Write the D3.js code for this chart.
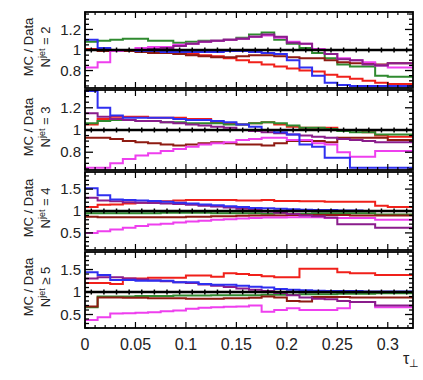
<!DOCTYPE html>
<html><head><meta charset="utf-8">
<script src="https://cdn.jsdelivr.net/npm/d3@7"></script>
<style>body{margin:0;background:#fff}text{font-family:"Liberation Sans",Arial,sans-serif;fill:#222}</style>
</head><body><svg id="c" width="423" height="380"></svg>
<script>
// ---- data ----
const binEdges = [0,0.0125,0.025,0.0375,0.05,0.0625,0.075,0.0875,0.1,0.1125,0.125,0.1375,0.15,0.1625,0.175,0.1875,0.2,0.2125,0.225,0.2375,0.25,0.2625,0.275,0.2875,0.3,0.3125,0.325];
const xTicks = [0,0.05,0.1,0.15,0.2,0.25,0.3];
const xTickLabels = ["0","0.05","0.1","0.15","0.2","0.25","0.3"];
const seriesNames = ["red","green","maroon","magenta","purple","blue"];
const seriesColors = {red:"#f0201a",green:"#2f8a2f",maroon:"#8e1b12",magenta:"#ee3fee",purple:"#8a1d8c",blue:"#2f2ff0"};
const panelLabels = ["N^jet = 2","N^jet = 3","N^jet = 4","N^jet \u2265 5"];
const yTicks = [[0.8,1,1.2],[0.8,1,1.2],[0.5,1,1.5],[0.5,1,1.5]];
const yTickLabels = [["0.8","1","1.2"],["0.8","1","1.2"],["0.5","1","1.5"],["0.5","1","1.5"]];
const yDomains = [[0.63,1.37],[0.64,1.36],[0.11,1.89],[0.2,1.89]];

// panel 1
const p1 = {
 green:  [1.08,1.09,1.10,1.11,1.11,1.09,1.09,1.07,1.08,1.09,1.09,1.10,1.12,1.15,1.17,1.10,1.06,1.02,0.97,0.92,0.86,0.84,0.84,0.75,0.74,0.74],
 magenta:[0.83,0.88,0.99,1.00,1.02,1.03,1.03,1.05,1.06,1.08,1.09,1.10,1.11,1.13,1.14,1.12,1.08,1.06,1.01,0.96,0.92,0.90,0.88,0.85,0.83,0.83],
 purple: [1.00,1.00,1.00,1.00,1.00,1.01,1.02,1.04,1.06,1.08,1.09,1.10,1.11,1.13,1.15,1.13,1.07,1.06,1.00,0.96,0.91,0.90,0.86,0.85,0.87,0.87],
 red:    [1.01,1.01,1.00,1.00,0.99,0.99,0.98,0.97,0.96,0.95,0.94,0.92,0.90,0.88,0.86,0.84,0.82,0.80,0.79,0.76,0.74,0.72,0.70,0.68,0.67,0.67],
 blue:   [1.10,1.02,1.00,1.00,0.99,0.99,0.98,0.98,0.98,0.98,0.98,0.99,0.99,0.98,0.97,0.96,0.90,0.83,0.75,0.68,0.66,0.65,0.65,0.65,0.65,0.65],
 maroon: [1.00,0.99,0.99,0.99,0.98,0.97,0.97,0.96,0.95,0.94,0.93,0.93,0.94,0.95,0.95,0.94,0.93,0.92,0.92,0.90,0.88,0.87,0.87,0.86,0.87,0.87]
};
// panel 2
const p2 = {
 blue:   [1.35,1.20,1.13,1.11,1.11,1.11,1.11,1.10,1.09,1.09,1.08,1.07,1.05,1.03,1.00,0.98,0.96,0.87,0.85,0.75,0.75,0.66,0.66,0.66,0.66,0.66],
 red:    [1.05,1.10,1.12,1.12,1.12,1.11,1.11,1.11,1.10,1.10,1.07,1.06,1.05,1.06,1.07,1.05,1.03,1.02,1.02,1.02,1.00,1.00,0.98,0.95,0.94,0.94],
 green:  [1.06,1.08,1.09,1.09,1.08,1.08,1.07,1.07,1.06,1.06,1.06,1.05,1.05,1.06,1.07,1.06,1.04,1.02,1.02,1.01,0.99,0.98,0.98,0.96,0.96,0.96],
 maroon: [0.93,0.93,0.92,0.90,0.89,0.88,0.87,0.86,0.87,0.88,0.89,0.88,0.87,0.87,0.86,0.88,0.90,0.90,0.90,0.89,0.93,0.93,0.93,0.93,0.91,0.91],
 magenta:[0.66,0.66,0.70,0.74,0.77,0.79,0.81,0.83,0.85,0.87,0.88,0.89,0.91,0.92,0.93,0.93,0.91,0.91,0.88,0.87,0.80,0.76,0.76,0.81,0.81,0.81],
 purple: [1.15,1.12,1.10,1.09,1.08,1.08,1.07,1.06,1.05,1.04,1.03,1.02,1.00,0.99,0.98,0.97,0.96,0.95,0.94,0.93,0.92,0.91,0.90,0.89,0.89,0.89]
};
// panel 3
const p3 = {
 blue:   [1.52,1.36,1.26,1.25,1.24,1.23,1.21,1.19,1.17,1.15,1.13,1.11,1.09,1.07,1.06,1.05,1.04,1.03,1.02,1.02,1.01,1.01,1.00,1.00,1.00,1.00],
 red:    [1.09,1.14,1.15,1.17,1.19,1.20,1.22,1.24,1.25,1.25,1.25,1.25,1.24,1.24,1.25,1.23,1.23,1.22,1.22,1.21,1.21,1.21,1.21,1.12,1.09,1.09],
 green:  [0.95,0.95,0.95,0.95,0.95,0.95,0.96,0.96,0.96,0.96,0.95,0.95,0.95,0.95,0.94,0.95,0.94,0.94,0.95,0.95,0.95,0.95,0.95,0.92,0.92,0.92],
 maroon: [0.87,0.86,0.86,0.86,0.86,0.86,0.86,0.86,0.87,0.87,0.88,0.88,0.89,0.90,0.90,0.90,0.91,0.91,0.91,0.91,0.91,0.90,0.90,0.90,0.90,0.90],
 magenta:[0.50,0.54,0.58,0.62,0.66,0.69,0.71,0.74,0.76,0.78,0.80,0.81,0.83,0.84,0.85,0.85,0.86,0.86,0.86,0.84,0.84,0.84,0.84,0.80,0.80,0.80],
 purple: [1.30,1.24,1.22,1.20,1.19,1.18,1.17,1.16,1.14,1.12,1.10,1.08,1.05,1.02,0.99,0.96,0.93,0.90,0.88,0.85,0.70,0.70,0.70,0.62,0.62,0.62]
};
// panel 4
const p4 = {
 blue:   [1.44,1.38,1.27,1.27,1.25,1.25,1.25,1.22,1.22,1.18,1.16,1.16,1.14,1.12,1.10,1.07,1.05,1.04,1.03,1.02,1.02,1.02,1.01,1.01,1.01,1.01],
 red:    [1.20,1.20,1.18,1.30,1.30,1.32,1.32,1.32,1.37,1.37,1.34,1.42,1.40,1.38,1.35,1.33,1.33,1.52,1.52,1.52,1.44,1.42,1.42,1.38,1.38,1.38],
 green:  [0.66,0.90,0.90,0.90,0.91,0.91,0.91,0.92,0.92,0.92,0.93,0.93,0.93,0.93,0.94,0.94,0.94,0.95,0.95,0.95,0.96,0.96,0.96,0.97,0.97,0.97],
 maroon: [0.68,0.88,0.88,0.87,0.87,0.86,0.86,0.86,0.85,0.85,0.85,0.86,0.86,0.87,0.90,0.88,0.80,0.79,0.89,0.89,0.89,0.88,0.88,0.88,0.88,0.88],
 magenta:[0.38,0.44,0.52,0.53,0.54,0.55,0.57,0.59,0.63,0.65,0.66,0.67,0.68,0.70,0.56,0.60,0.64,0.60,0.60,0.60,0.64,0.78,0.78,0.66,0.66,0.66],
 purple: [1.30,1.33,1.33,1.30,1.28,1.26,1.24,1.22,1.20,1.17,1.14,1.11,1.08,1.05,1.02,0.98,0.93,0.88,0.85,0.84,0.80,0.78,0.78,0.70,0.70,0.70]
};
const dataRatio = [1,1,1,1,1,1,1,1,1,1,1,1,1,1,1,1,1,1,1,1,1,1,1,1,1,1];
const panelsData = [p1,p2,p3,p4];

// ---- layout ----
const svg = d3.select("#c");
const x = d3.scaleLinear().domain([0,0.325]).range([85,413]);
const frames = [[12,88],[90,170],[172,250],[252,328]];
const minorStep = [0.05,0.05,0.1,0.1];

frames.forEach((fr,pi)=>{
  const y = d3.scaleLinear().domain(yDomains[pi]).range([fr[1],fr[0]]);
  const g = svg.append("g");
  const cid = "clip"+pi;
  svg.append("clipPath").attr("id",cid).append("rect")
     .attr("x",x.range()[0]).attr("y",fr[0]).attr("width",x.range()[1]-x.range()[0]).attr("height",fr[1]-fr[0]);
  const pd = panelsData[pi];
  const plot = g.append("g").attr("clip-path",`url(#${cid})`);
  const line = d3.line().x(d=>x(d[0])).y(d=>y(d[1])).curve(d3.curveStepAfter);
  seriesNames.forEach(s=>{
    const vals = pd[s];
    const pts = vals.map((v,i)=>[binEdges[i],v]);
    pts.push([binEdges[vals.length],vals[vals.length-1]]);
    plot.append("path").attr("d",line(pts)).attr("fill","none")
      .attr("stroke",seriesColors[s]).attr("stroke-width",2);
  });
  // data
  const dpts = dataRatio.map((v,i)=>[binEdges[i],v]);
  dpts.push([binEdges[dataRatio.length],dataRatio[dataRatio.length-1]]);
  plot.append("path").attr("d",line(dpts)).attr("fill","none").attr("stroke","#000").attr("stroke-width",2.4);
  plot.selectAll(".dm").data(dataRatio).enter().append("line")
    .attr("x1",(d,i)=>x((binEdges[i]+binEdges[i+1])/2)).attr("x2",(d,i)=>x((binEdges[i]+binEdges[i+1])/2))
    .attr("y1",d=>y(d)-2.5).attr("y2",d=>y(d)+2.5).attr("stroke","#000").attr("stroke-width",1.5);

  // y ticks (major + minor), left & right
  const [lo,hi]=yDomains[pi];
  const mstep=minorStep[pi];
  const minors=[]; for(let v=Math.ceil(lo/mstep)*mstep; v<=hi+1e-9; v+=mstep) minors.push(+v.toFixed(3));
  minors.forEach(v=>{
    const isMaj = yTicks[pi].some(t=>Math.abs(t-v)<1e-6);
    const L = isMaj?8:4;
    g.append("line").attr("x1",x.range()[0]).attr("x2",x.range()[0]+L).attr("y1",y(v)).attr("y2",y(v)).attr("stroke","#000").attr("stroke-width",1.3);
    g.append("line").attr("x1",x.range()[1]).attr("x2",x.range()[1]-L).attr("y1",y(v)).attr("y2",y(v)).attr("stroke","#000").attr("stroke-width",1.3);
  });
  yTicks[pi].forEach((t,k)=>{
    g.append("text").attr("x",81).attr("y",y(t)).attr("dy","0.35em").attr("text-anchor","end")
     .attr("font-size",15).text(yTickLabels[pi][k]);
  });
  // x ticks top & bottom
  const xm=[]; for(let v=0; v<=0.325+1e-9; v+=0.01) xm.push(+v.toFixed(3));
  xm.forEach(v=>{
    const isMaj = xTicks.some(t=>Math.abs(t-v)<1e-6);
    const L = isMaj?6:3;
    g.append("line").attr("x1",x(v)).attr("x2",x(v)).attr("y1",fr[1]).attr("y2",fr[1]-L).attr("stroke","#000").attr("stroke-width",1.2);
    g.append("line").attr("x1",x(v)).attr("x2",x(v)).attr("y1",fr[0]).attr("y2",fr[0]+L).attr("stroke","#000").attr("stroke-width",1.2);
  });
  // frame
  g.append("rect").attr("x",x.range()[0]).attr("y",fr[0]).attr("width",x.range()[1]-x.range()[0]).attr("height",fr[1]-fr[0])
   .attr("fill","none").attr("stroke","#000").attr("stroke-width",1.8);
  // labels
  const cy=(fr[0]+fr[1])/2;
  g.append("text").attr("transform",`translate(33,${cy-3}) rotate(-90)`).attr("text-anchor","middle").attr("font-size",13).text("MC / Data");
  const lab = panelLabels[pi].split("^");
  const rest = lab[1].split(" ");
  const t2 = g.append("text").attr("transform",`translate(50,${cy-3}) rotate(-90)`).attr("text-anchor","middle").attr("font-size",13);
  t2.append("tspan").text(lab[0]);
  t2.append("tspan").attr("dy",-5).attr("font-size",9).text(rest[0]);
  t2.append("tspan").attr("dy",5).text(" "+rest.slice(1).join(" "));
});

// x tick labels
xTicks.forEach((t,k)=>{
  svg.append("text").attr("x",x(t)).attr("y",350).attr("text-anchor","middle").attr("font-size",16).text(xTickLabels[k]);
});
const xl = svg.append("text").attr("x",403).attr("y",364).attr("font-size",16);
xl.append("tspan").text("\u03c4");
xl.append("tspan").attr("dy",3).attr("font-size",11).text("\u22a5");
</script></body></html>
